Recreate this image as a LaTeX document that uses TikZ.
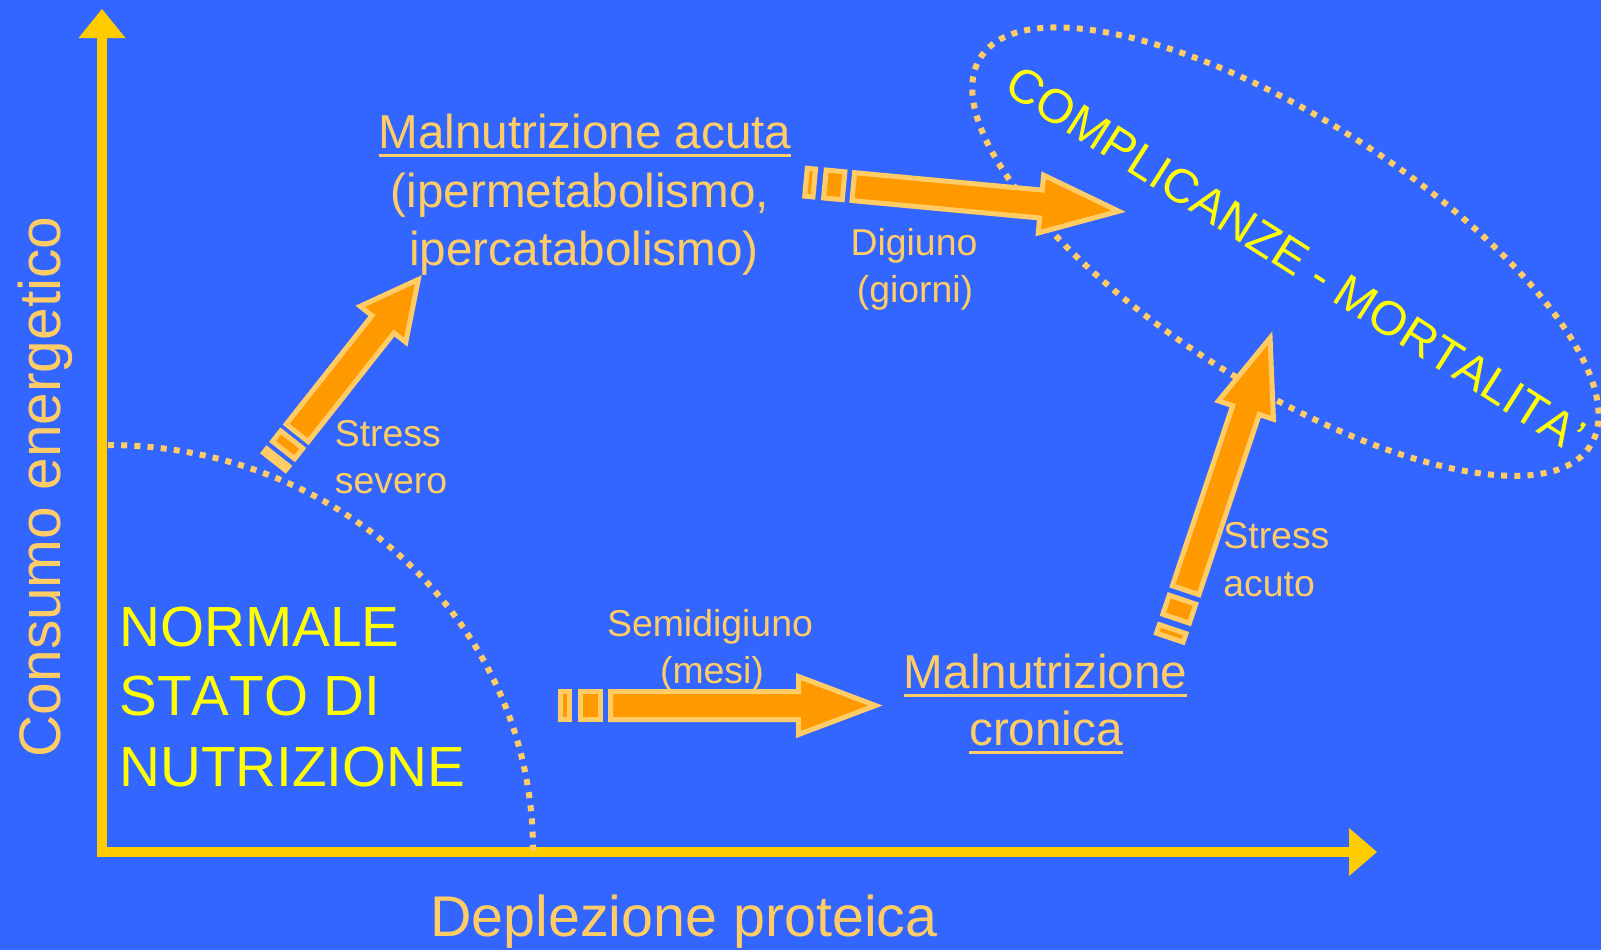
\documentclass[tikz,border=0pt]{standalone}
\usepackage{fontspec}
\setmainfont[Kerning=Off]{Liberation Sans}
\definecolor{bg}{HTML}{3366FF}
\definecolor{axc}{HTML}{FFCC00}
\definecolor{txt}{HTML}{FFCC66}
\definecolor{yel}{HTML}{FFFF00}
\definecolor{orf}{HTML}{FF9900}
\newcommand\ulx[1]{\setbox0\hbox{#1}\rlap{\rule[-4.55pt]{\wd0}{1.6pt}}\box0}
\tikzset{
  arrsty/.style={fill=orf, draw=txt, line width=2.5pt, line join=miter},
  dotsty/.style={draw=txt, line width=3pt, dash pattern=on 3pt off 3.6pt},
  smalltxt/.style={text=txt, inner sep=0pt, font=\fontsize{18.7pt}{22pt}\selectfont},
  midtxt/.style={text=txt, inner sep=0pt, font=\fontsize{23.8pt}{28pt}\selectfont},
  axtxt/.style={text=txt, inner sep=0pt, font=\fontsize{28.7pt}{34pt}\selectfont},
  bigtxt/.style={text=yel, inner sep=0pt, font=\fontsize{28.3pt}{34pt}\selectfont},
  cmptxt/.style={text=yel, inner sep=0pt, font=\fontsize{24pt}{28pt}\selectfont},
}
% #1 tail coordinate, #2 angle, #3 tail scale, #4 head base (outer), #5 tip (outer)
\newcommand\striparrow[5]{%
  \begin{scope}[shift={(#1)}, rotate=#2]
    \filldraw[arrsty] (2.5,-14) rectangle ({14*#3-2.5},14);
    \filldraw[arrsty] ({20*#3+2.5},-14) rectangle ({45*#3-2.5},14);
    \filldraw[arrsty] ({50*#3+2.5},-14) -- ({#4+2.5},-14) -- ({#4+2.5},-29)
      -- ({#5-6.5},0) -- ({#4+2.5},29) -- ({#4+2.5},14) -- ({50*#3+2.5},14) -- cycle;
  \end{scope}}
\begin{document}
\begin{tikzpicture}[x=0.5pt,y=-0.5pt]
\fill[bg] (0,0) rectangle (1601,950);
\useasboundingbox (0,0) rectangle (1601,950);

% axes
\coordinate (O) at (102,852);
\coordinate (Ytop) at (102,38);
\coordinate (Xend) at (1349,852);
\draw[axc, line width=5pt, line join=miter] (Ytop) -- (O) -- (Xend);
\fill[axc] (Ytop) ++(-23.5,0) -- ++(23.5,-29) -- ++(23.5,29) -- cycle;
\fill[axc] (Xend) ++(0,-24) -- ++(28,24) -- ++(-28,24) -- cycle;

% dotted boundaries
\coordinate (A0) at (108,445);
\draw[dotsty] (A0) arc[start angle=-90, end angle=0, x radius=425, y radius=405];
\coordinate (E) at (1285.5,251.7);
\draw[dotsty, rotate around={-32.5:(E)}] (E) ellipse[x radius=361.5, y radius=132.7];

% arrows
\coordinate (T1) at (558,705.5);
\coordinate (T2) at (803.5,182);
\coordinate (T3) at (273,463.5);
\coordinate (T4) at (1169,640);
\striparrow{T1}{0}{1}{238}{324}
\striparrow{T2}{-5.3}{0.95}{236}{323}
\striparrow{T3}{51.7}{0.73}{175}{241}
\striparrow{T4}{71.5}{1}{240}{325}

% axis labels
\node[axtxt, anchor=base, rotate=90, font=\fontsize{29.3pt}{34pt}\selectfont] (ylab) at (60,487) {Consumo energetico};
\node[axtxt, anchor=base] (xlab) at (684,936) {Deplezione proteica};

% normal state
\node[bigtxt, anchor=base west] (n1) at (119,646) {NORMALE};
\node[bigtxt, anchor=base west] (n2) at (119,715) {STATO DI};
\node[bigtxt, anchor=base west] (n3) at (119,786) {NUTRIZIONE};

% acute malnutrition
\node[midtxt, anchor=base] (ma1) at (585,148) {\ulx{Malnutrizione acuta}};
\node[midtxt, anchor=base] (ma2) at (580,207) {(ipermetabolismo,};
\node[midtxt, anchor=base] (ma3) at (584,265) {ipercatabolismo)};

% chronic malnutrition
\node[midtxt, anchor=base] (mc1) at (1045.5,688) {\ulx{Malnutrizione}};
\node[midtxt, anchor=base] (mc2) at (1046,745) {\ulx{cronica}};

% small labels
\node[smalltxt, anchor=base west] (ss1) at (334.5,446) {Stress};
\node[smalltxt, anchor=base west] (ss2) at (334.5,493) {severo};
\node[smalltxt, anchor=base] (sd1) at (710,636) {Semidigiuno};
\node[smalltxt, anchor=base] (sd2) at (712,683) {(mesi)};
\node[smalltxt, anchor=base] (dg1) at (914,255) {Digiuno};
\node[smalltxt, anchor=base] (dg2) at (915,302) {(giorni)};
\node[smalltxt, anchor=base west] (sa1) at (1223,548) {Stress};
\node[smalltxt, anchor=base west] (sa2) at (1223,596) {acuto};

% complications
\node[cmptxt, rotate=-32.5] (cm) at (1296,259) {COMPLICANZE - MORTALITA’};
\end{tikzpicture}
\end{document}
